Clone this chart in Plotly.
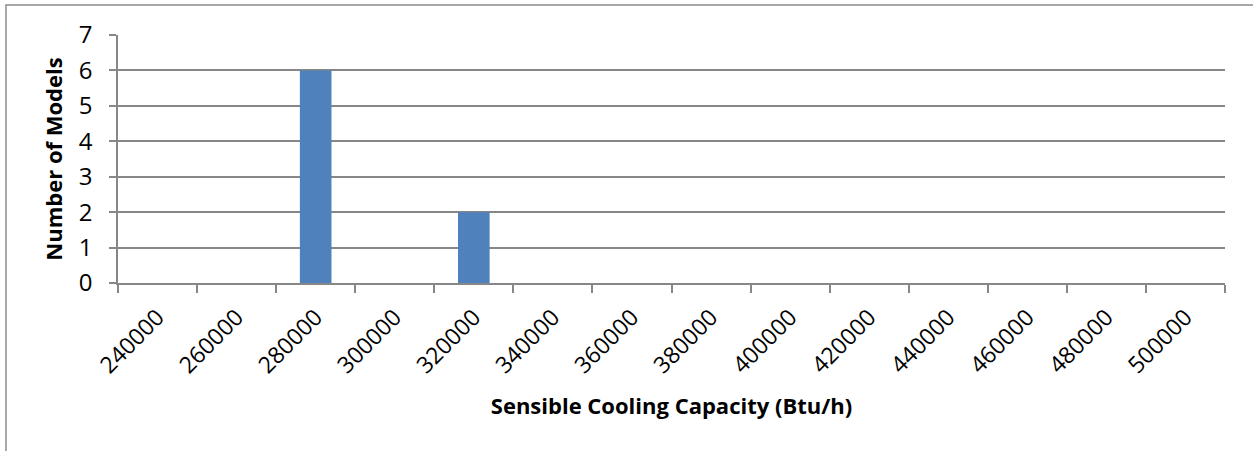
import plotly.graph_objects as go

# Histogram bins (Btu/h) and model counts per bin
capacity_bins = ["240000", "260000", "280000", "300000", "320000", "340000", "360000",
                 "380000", "400000", "420000", "440000", "460000", "480000", "500000"]
model_counts = [0, 0, 6, 0, 2, 0, 0, 0, 0, 0, 0, 0, 0, 0]
y_ticks = [0, 1, 2, 3, 4, 5, 6, 7]

W, H = 1253, 451
L, R, T, B = 118, 28, 35, 168
pw, ph = W - L - R, H - T - B

font_family = "Open Sans, Liberation Sans, sans-serif"
grid_col = "#878787"

fig = go.Figure(go.Bar(
    x=capacity_bins,
    y=model_counts,
    width=0.4,
    marker=dict(color="#4F81BD", line=dict(width=0)),
))

fig.update_layout(
    width=W, height=H,
    margin=dict(l=L, r=R, t=T, b=B, pad=0),
    paper_bgcolor="white",
    plot_bgcolor="white",
    showlegend=False,
    font=dict(family=font_family, color="#000000"),
    xaxis=dict(
        type="category",
        range=[-0.5, len(capacity_bins) - 0.5],
        tickson="boundaries",
        ticks="outside", ticklen=8, tickcolor=grid_col, tickwidth=1.5,
        showline=True, linecolor=grid_col, linewidth=1.5,
        showgrid=False,
        tickangle=-45,
        tickfont=dict(size=23),
        ticklabelstandoff=10,
        title=dict(text="<b>Sensible Cooling Capacity (Btu/h)</b>",
                   font=dict(size=22), standoff=20),
    ),
    yaxis=dict(
        range=[0, 7],
        tickvals=y_ticks,
        ticks="outside", ticklen=7, tickcolor=grid_col, tickwidth=1.5,
        showline=True, linecolor=grid_col, linewidth=1.5,
        showgrid=True, gridcolor=grid_col, gridwidth=1.5,
        zeroline=False,
        tickfont=dict(size=24),
        ticklabelstandoff=12,
        title=dict(text="<b>Number of Models</b>", font=dict(size=22), standoff=10),
    ),
)

# Outer chart border
fig.add_shape(
    type="rect", xref="paper", yref="paper",
    x0=(6 - L) / pw, x1=(W + 10 - L) / pw,
    y0=(H - B - (H + 10)) / ph, y1=(H - B - 5) / ph,
    line=dict(color="#8c8c8c", width=1.5),
    fillcolor="rgba(0,0,0,0)",
    layer="below",
)

fig.write_html("out.html")
